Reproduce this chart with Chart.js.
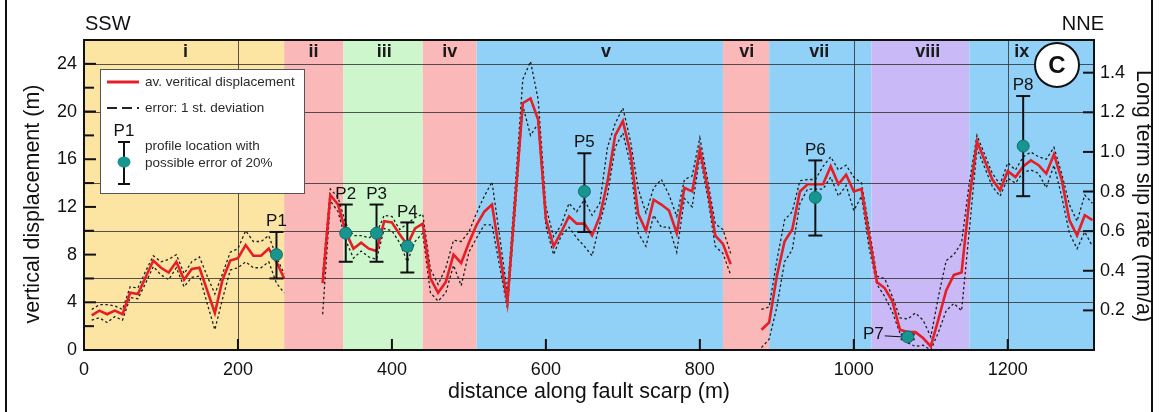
<!DOCTYPE html>
<html>
<head>
<meta charset="utf-8">
<script src="https://cdn.jsdelivr.net/npm/chart.js@4.4.0/dist/chart.umd.min.js"></script>
<style>
  body { margin: 0; background: #fff; }
  #wrap { width: 1161px; height: 412px; position: relative; }
</style>
</head>
<body>
<div id="wrap"><canvas id="scarp"></canvas></div>
<script>
// distance along the fault scarp (m)
const dist = [10, 20, 30, 40, 50, 60, 70, 80, 90, 100, 110, 120, 130, 140, 150, 160, 170, 180, 190, 200,
  210, 220, 230, 240, 250, 260, 270, 280, 290, 300, 310, 320, 330, 340, 350, 360, 370, 380, 390, 400,
  410, 420, 430, 440, 450, 460, 470, 480, 490, 500, 510, 520, 530, 540, 550, 560, 570, 580, 590, 600,
  610, 620, 630, 640, 650, 660, 670, 680, 690, 700, 710, 720, 730, 740, 750, 760, 770, 780, 790, 800,
  810, 820, 830, 840, 850, 860, 870, 880, 890, 900, 910, 920, 930, 940, 950, 960, 970, 980, 990, 1000,
  1010, 1020, 1030, 1040, 1050, 1060, 1070, 1080, 1090, 1100, 1110, 1120, 1130, 1140, 1150, 1160, 1170, 1180, 1190, 1200,
  1210, 1220, 1230, 1240, 1250, 1260, 1270, 1280, 1290, 1300, 1310];

// av. vertical displacement (m)
const disp = [2.9, 3.3, 3.0, 3.3, 3.0, 4.8, 4.7, 6.1, 7.5, 6.9, 6.5, 7.4, 5.9, 6.8, 6.9, 5.0, 3.1, 5.9, 7.5, 7.7,
  8.8, 7.9, 7.9, 8.5, 7.4, 6.0, null, null, null, null, 5.6, 13.0, 12.2, 9.9, 8.5, 9.0, 8.5, 8.3, 10.8, 10.7,
  9.7, 8.8, 10.2, 10.6, 6.0, 4.8, 5.7, 8.0, 7.3, 9.0, 10.5, 11.6, 12.2, 8.1, 4.0, 12.4, 20.7, 21.1, 19.3, 11.0,
  8.7, 9.9, 11.2, 10.6, 10.6, 9.6, 11.2, 14.1, 18.0, 19.2, 16.5, 11.4, 10.0, 12.6, 12.2, 11.7, 9.8, 13.6, 13.3, 16.8,
  13.6, 9.6, 8.9, 7.2, null, null, null, 1.7, 2.3, 6.2, 9.1, 10.1, 13.3, 13.9, 13.9, 13.9, 15.4, 13.9, 14.7, 13.3,
  13.5, 9.5, 5.7, 5.2, 4.1, 1.7, 1.5, 1.5, 1.0, 0.3, 2.6, 5.0, 6.3, 6.5, 12.6, 17.5, 15.9, 14.3, 13.4, 15.0,
  14.5, 15.4, 15.9, 15.5, 14.8, 16.4, 14.3, 10.9, 9.6, 11.3, 10.9];

// error envelope: +/- 1 st. deviation
const dispHigh = [3.4, 3.8, 3.8, 3.7, 3.4, 5.3, 5.2, 6.6, 7.9, 7.4, 7.6, 8.0, 6.4, 7.4, 7.8, 6.2, 4.7, 6.4, 8.2, 8.5,
  10.0, 9.1, 9.1, 9.6, 7.8, 6.4, null, null, null, null, 6.3, 13.5, 12.8, 10.6, 9.6, 9.6, 9.4, 9.8, 11.3, 11.2,
  10.1, 10.6, 11.1, 11.4, 6.8, 5.5, 6.9, 9.2, 9.1, 9.9, 11.5, 12.9, 14.1, 9.5, 4.8, 13.5, 22.7, 24.2, 21.0, 12.0,
  9.5, 10.5, 12.3, 11.6, 12.6, 11.3, 12.3, 17.0, 19.0, 20.3, 17.5, 13.5, 11.5, 13.6, 14.3, 13.0, 11.2, 14.3, 14.6, 17.8,
  14.3, 10.6, 10.1, 8.1, null, null, null, 3.4, 3.6, 7.5, 10.9, 11.6, 14.2, 14.3, 14.3, 15.4, 16.2, 15.1, 15.5, 14.5,
  14.0, 10.2, 6.2, 6.0, 4.5, 2.7, 2.6, 3.1, 2.5, 1.1, 4.5, 7.5, 8.0, 9.0, 14.0, 18.0, 16.4, 14.8, 13.9, 15.7,
  15.1, 16.2, 16.6, 16.2, 16.0, 17.0, 14.8, 12.2, 10.8, 13.0, 12.3];
const dispLow = [2.5, 2.7, 2.3, 2.8, 2.5, 4.4, 4.3, 5.6, 7.0, 6.3, 5.9, 6.9, 5.3, 6.1, 6.2, 3.9, 1.7, 4.3, 6.7, 6.9,
  7.4, 6.9, 6.9, 7.4, 5.6, 4.8, null, null, null, null, 3.0, 12.5, 11.6, 9.2, 7.7, 8.3, 7.8, 7.6, 10.2, 10.0,
  9.0, 7.4, 9.1, 9.8, 4.8, 4.1, 4.8, 7.1, 5.4, 8.2, 9.4, 10.5, 10.5, 7.0, 3.5, 11.5, 20.5, 18.0, 19.0, 10.4,
  8.0, 9.6, 10.3, 9.4, 8.7, 7.9, 10.6, 13.0, 17.0, 18.2, 15.5, 9.8, 8.7, 11.3, 10.3, 10.3, 8.2, 12.7, 12.0, 16.3,
  12.9, 8.7, 8.1, 6.3, null, null, null, 0.2, 0.9, 3.6, 7.4, 8.4, 12.3, 13.5, 13.5, 13.5, 14.5, 12.9, 13.8, 11.7,
  12.9, 8.5, 5.5, 4.5, 3.2, 1.4, 0.6, 0.3, 0.4, 0.0, 1.5, 3.3, 3.9, 3.3, 10.0, 16.9, 15.3, 13.7, 12.9, 14.4,
  14.0, 14.9, 15.1, 14.8, 13.6, 15.5, 12.9, 9.8, 8.5, 9.9, 8.7];

// profile locations with possible error of 20%
const profName = ['P1', 'P2', 'P3', 'P4', 'P5', 'P6', 'P7', 'P8'];
const profDist = [250, 340, 380, 420, 650, 950, 1070, 1220];
const profDisp = [8.0, 9.8, 9.8, 8.7, 13.3, 12.8, 1.1, 17.1];
const profLow = [6.0, 7.4, 7.4, 6.5, 9.9, 9.6, 0.9, 12.9];
const profHigh = [9.9, 12.2, 12.2, 10.7, 16.5, 15.9, 1.3, 21.3];

// segments i - ix
const segName = ['i', 'ii', 'iii', 'iv', 'v', 'vi', 'vii', 'viii', 'ix'];
const segStart = [0, 260, 337, 440, 510, 830, 890, 1023, 1150];
const segEnd = [260, 337, 440, 510, 830, 890, 1023, 1150, 1312];
const segLabelAt = [132, 298, 390, 475, 678, 861, 955, 1096, 1218];
const segColor = ['#fce5a2', '#fab8b8', '#cdf6cd', '#fab8b8', '#92d1f7', '#fab8b8', '#92d1f7', '#c9b9f6', '#92d1f7'];

// ticks and grid
const xTicks = [0, 200, 400, 600, 800, 1000, 1200];
const yTicks = [0, 4, 8, 12, 16, 20, 24];
const yMinor = [2, 6, 10, 14, 18, 22];
const y2Ticks = [0.2, 0.4, 0.6, 0.8, 1.0, 1.2, 1.4];
const gridY = [4, 6, 10, 14, 20, 24];
const gridX = [200, 1000, 1200];

const FONT = '"Liberation Sans", Arial, Helvetica, sans-serif';
Chart.defaults.font.family = FONT;
Chart.defaults.color = '#111';

function pairs(ys) {
  return dist.map((d, i) => ({ x: d, y: ys[i] }));
}

function seg(ctx, x0, y0, x1, y1) {
  ctx.beginPath();
  ctx.moveTo(x0, y0);
  ctx.lineTo(x1, y1);
  ctx.stroke();
}

const decor = {
  id: 'decor',
  beforeDatasetsDraw(chart) {
    const { ctx, chartArea: a, scales: { x, y } } = chart;
    ctx.save();
    segStart.forEach((s, i) => {
      const x0 = x.getPixelForValue(s), x1 = x.getPixelForValue(segEnd[i]);
      ctx.fillStyle = segColor[i];
      ctx.fillRect(x0, a.top, x1 - x0, a.bottom - a.top);
    });
    ctx.strokeStyle = 'rgba(45,45,45,0.8)';
    ctx.lineWidth = 1;
    gridY.forEach(v => {
      const py = Math.round(y.getPixelForValue(v)) + 0.5;
      seg(ctx, a.left, py, a.right, py);
    });
    gridX.forEach(v => {
      const px = Math.round(x.getPixelForValue(v)) + 0.5;
      seg(ctx, px, a.top, px, a.bottom);
    });
    ctx.fillStyle = '#1a1a1a';
    ctx.font = 'bold 18px ' + FONT;
    ctx.textAlign = 'center';
    ctx.textBaseline = 'middle';
    segName.forEach((t, i) => {
      ctx.fillText(t, x.getPixelForValue(segLabelAt[i]), y.getPixelForValue(25));
    });
    ctx.restore();
  },
  beforeDatasetDraw(chart, args) {
    if (args.index !== 0) return;
    const { ctx, scales: { x, y } } = chart;
    ctx.save();
    ctx.strokeStyle = '#111';
    ctx.fillStyle = '#111';
    ctx.lineWidth = 2;
    ctx.font = '17px ' + FONT;
    profDist.forEach((d, i) => {
      const px = x.getPixelForValue(d);
      const yl = y.getPixelForValue(profLow[i]), yh = y.getPixelForValue(profHigh[i]);
      seg(ctx, px, yl, px, yh);
      seg(ctx, px - 7, yl, px + 7, yl);
      seg(ctx, px - 7, yh, px + 7, yh);
      if (profName[i] === 'P7') {
        ctx.textAlign = 'right';
        ctx.textBaseline = 'middle';
        ctx.fillText(profName[i], px - 24, y.getPixelForValue(profDisp[i]) - 3);
        ctx.lineWidth = 1;
        seg(ctx, px - 23, y.getPixelForValue(profDisp[i]) - 1, px - 5, y.getPixelForValue(profDisp[i]));
        ctx.lineWidth = 2;
      } else {
        ctx.textAlign = 'center';
        ctx.textBaseline = 'bottom';
        ctx.fillText(profName[i], px, yh - 2);
      }
    });
    ctx.restore();
  },
  afterDraw(chart) {
    const { ctx, chartArea: a, scales: { x, y, y2 } } = chart;
    ctx.save();
    // frame of plot
    ctx.strokeStyle = '#111';
    ctx.lineWidth = 2;
    ctx.strokeRect(a.left, a.top, a.right - a.left, a.bottom - a.top);
    // inward ticks
    yTicks.forEach(v => { const p = y.getPixelForValue(v); seg(ctx, a.left, p, a.left + 12, p); });
    yMinor.forEach(v => { const p = y.getPixelForValue(v); seg(ctx, a.left, p, a.left + 10, p); });
    xTicks.forEach(v => { const p = x.getPixelForValue(v); seg(ctx, p, a.bottom, p, a.bottom - 11); });
    y2Ticks.forEach(v => { const p = y2.getPixelForValue(v); seg(ctx, a.right, p, a.right - 11, p); });

    // axis titles on the sides
    ctx.fillStyle = '#111';
    ctx.font = '21.5px ' + FONT;
    ctx.textAlign = 'center';
    ctx.textBaseline = 'middle';
    ctx.save();
    ctx.translate(33, 204);
    ctx.rotate(-Math.PI / 2);
    ctx.fillText('vertical displacement (m)', 0, 0);
    ctx.restore();
    ctx.save();
    ctx.translate(1143, 196);
    ctx.rotate(Math.PI / 2);
    ctx.fillText('Long term slip rate (mm/a)', 0, 0);
    ctx.restore();

    // legend box
    ctx.fillStyle = '#fff';
    ctx.fillRect(100, 69, 204, 124);
    ctx.strokeStyle = '#555';
    ctx.lineWidth = 1;
    ctx.strokeRect(100.5, 69.5, 204, 124);
    ctx.strokeStyle = '#e61e25';
    ctx.lineWidth = 3;
    seg(ctx, 107, 82, 139, 82);
    ctx.strokeStyle = '#222';
    ctx.lineWidth = 1.8;
    ctx.setLineDash([10, 5]);
    seg(ctx, 107, 108, 139, 108);
    ctx.setLineDash([]);
    ctx.fillStyle = '#2a2a2a';
    ctx.font = '13.5px ' + FONT;
    ctx.textAlign = 'left';
    ctx.textBaseline = 'middle';
    ctx.fillText('av. veritical displacement', 145, 82);
    ctx.fillText('error: 1 st. deviation', 145, 108);
    ctx.fillText('profile location with', 145, 146);
    ctx.fillText('possible error of 20%', 145, 163);
    ctx.font = '17px ' + FONT;
    ctx.textAlign = 'center';
    ctx.fillStyle = '#111';
    ctx.fillText('P1', 124, 131);
    ctx.strokeStyle = '#111';
    ctx.lineWidth = 2;
    seg(ctx, 124, 142, 124, 184);
    seg(ctx, 118, 142, 130, 142);
    seg(ctx, 118, 184, 130, 184);
    ctx.fillStyle = '#17958f';
    ctx.beginPath();
    ctx.ellipse(124, 162, 6.5, 5.5, 0, 0, Math.PI * 2);
    ctx.fill();

    // panel letter
    ctx.fillStyle = '#fff';
    ctx.strokeStyle = '#111';
    ctx.lineWidth = 2;
    ctx.beginPath();
    ctx.arc(1057, 65, 22, 0, Math.PI * 2);
    ctx.fill();
    ctx.stroke();
    ctx.fillStyle = '#111';
    ctx.font = 'bold 24px ' + FONT;
    ctx.textAlign = 'center';
    ctx.textBaseline = 'middle';
    ctx.fillText('C', 1057, 66);

    // orientation
    ctx.font = '20px ' + FONT;
    ctx.textAlign = 'left';
    ctx.fillText('SSW', 85, 24);
    ctx.textAlign = 'right';
    ctx.fillText('NNE', 1104, 24);

    // outer figure lines
    ctx.lineWidth = 2;
    seg(ctx, 6, 0, 6, 412);
    seg(ctx, 1152, 0, 1152, 412);
    ctx.restore();
  }
};

new Chart(document.getElementById('scarp'), {
  type: 'line',
  data: {
    datasets: [
      {
        type: 'scatter',
        label: 'profile location',
        data: profDist.map((d, i) => ({ x: d, y: profDisp[i] })),
        pointRadius: 6,
        pointBackgroundColor: '#17958f',
        pointBorderColor: '#0f706c',
        pointBorderWidth: 1,
        showLine: false,
        order: 0
      },
      {
        label: 'av. veritical displacement',
        data: pairs(disp),
        borderColor: '#e61e25',
        borderWidth: 2.6,
        pointRadius: 0,
        tension: 0,
        spanGaps: false,
        order: 1
      },
      {
        label: 'error high',
        data: pairs(dispHigh),
        borderColor: '#1e1e1e',
        borderWidth: 1.3,
        borderDash: [2.5, 2.5],
        pointRadius: 0,
        tension: 0,
        spanGaps: false,
        order: 2
      },
      {
        label: 'error low',
        data: pairs(dispLow),
        borderColor: '#1e1e1e',
        borderWidth: 1.3,
        borderDash: [2.5, 2.5],
        pointRadius: 0,
        tension: 0,
        spanGaps: false,
        order: 3
      }
    ]
  },
  options: {
    responsive: true,
    maintainAspectRatio: false,
    animation: false,
    layout: { padding: { top: 40, left: 0, right: 0, bottom: 0 } },
    plugins: { legend: { display: false }, tooltip: { enabled: false } },
    scales: {
      x: {
        type: 'linear',
        min: 0,
        max: 1312,
        afterBuildTicks: s => { s.ticks = xTicks.map(v => ({ value: v })); },
        afterFit: s => { s.height = 62; },
        grid: { display: false, drawTicks: false },
        border: { display: false },
        ticks: { font: { size: 18 }, color: '#111', padding: 9, maxRotation: 0, callback: v => String(v) },
        title: { display: true, text: 'distance along fault scarp (m)', font: { size: 21.5 }, color: '#111', padding: { top: 0, bottom: 7 } }
      },
      y: {
        position: 'left',
        min: 0,
        max: 26,
        afterBuildTicks: s => { s.ticks = yTicks.map(v => ({ value: v })); },
        afterFit: s => { s.width = 84; },
        grid: { display: false, drawTicks: false },
        border: { display: false },
        ticks: { font: { size: 18 }, color: '#111', padding: 7 }
      },
      y2: {
        position: 'right',
        min: 0,
        max: 1.565,
        afterBuildTicks: s => { s.ticks = y2Ticks.map(v => ({ value: v })); },
        afterFit: s => { s.width = 67; },
        grid: { display: false, drawTicks: false },
        border: { display: false },
        ticks: { font: { size: 18 }, color: '#111', padding: 6, callback: v => v.toFixed(1) }
      }
    }
  },
  plugins: [decor]
});
</script>
</body>
</html>
